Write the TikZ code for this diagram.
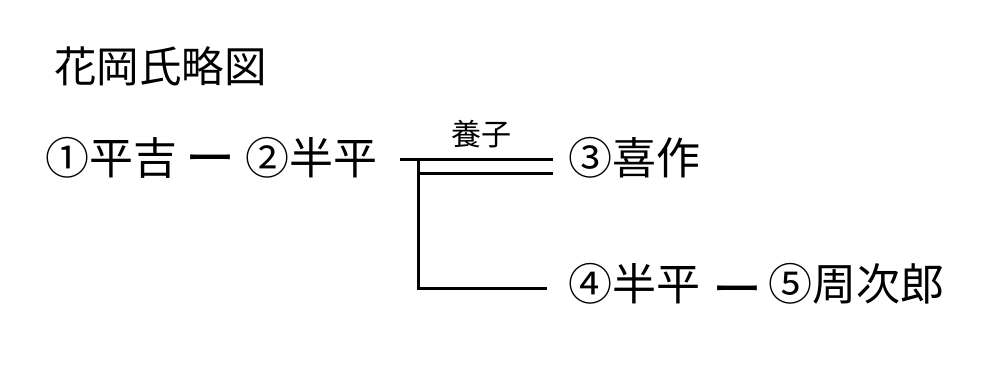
\documentclass[tikz,border=0pt]{standalone}
\usepackage{fontspec}
\newfontfamily\jp{Noto Sans CJK JP}
\begin{document}
\begin{tikzpicture}[x=1pt,y=-1pt,
  person/.style={anchor=base west,inner sep=0pt,font=\jp\fontsize{44}{44}\selectfont},
  dashmark/.style={anchor=base west,inner sep=0pt,font=\jp\fontsize{50}{50}\selectfont},
  ttl/.style={anchor=base west,inner sep=0pt,font=\jp\fontsize{42.5}{42.5}\selectfont},
  lbl/.style={anchor=base west,inner sep=0pt,font=\jp\fontsize{30}{30}\selectfont},
  link/.style={line width=3pt}]
\useasboundingbox (0,0) rectangle (1000,374);
\node[ttl] (title) at (54,83) {花岡氏略図};
\node[person] (p1) at (45,175) {①平吉};
\node[dashmark] (d1) at (185,177) {ー};
\node[person] (p2) at (245,175) {②半平};
\node[person] (p3) at (568,175) {③喜作};
\node[person] (p4) at (568,300) {④半平};
\node[dashmark] (d2) at (712,307) {ー};
\node[person] (p5) at (768,300) {⑤周次郎};
\node[lbl] (yoshi) at (451,146) {養子};
\coordinate (a) at (400,160);
\coordinate (b) at (553,160);
\coordinate (c) at (418,174);
\coordinate (d) at (553,174);
\coordinate (e) at (418,288);
\coordinate (f) at (547,288);
\coordinate (v) at (418,160);
\draw[link] (a) -- (b);
\draw[link] (c) -- (d);
\draw[link] (v) -- (e) -- (f);
\end{tikzpicture}
\end{document}
